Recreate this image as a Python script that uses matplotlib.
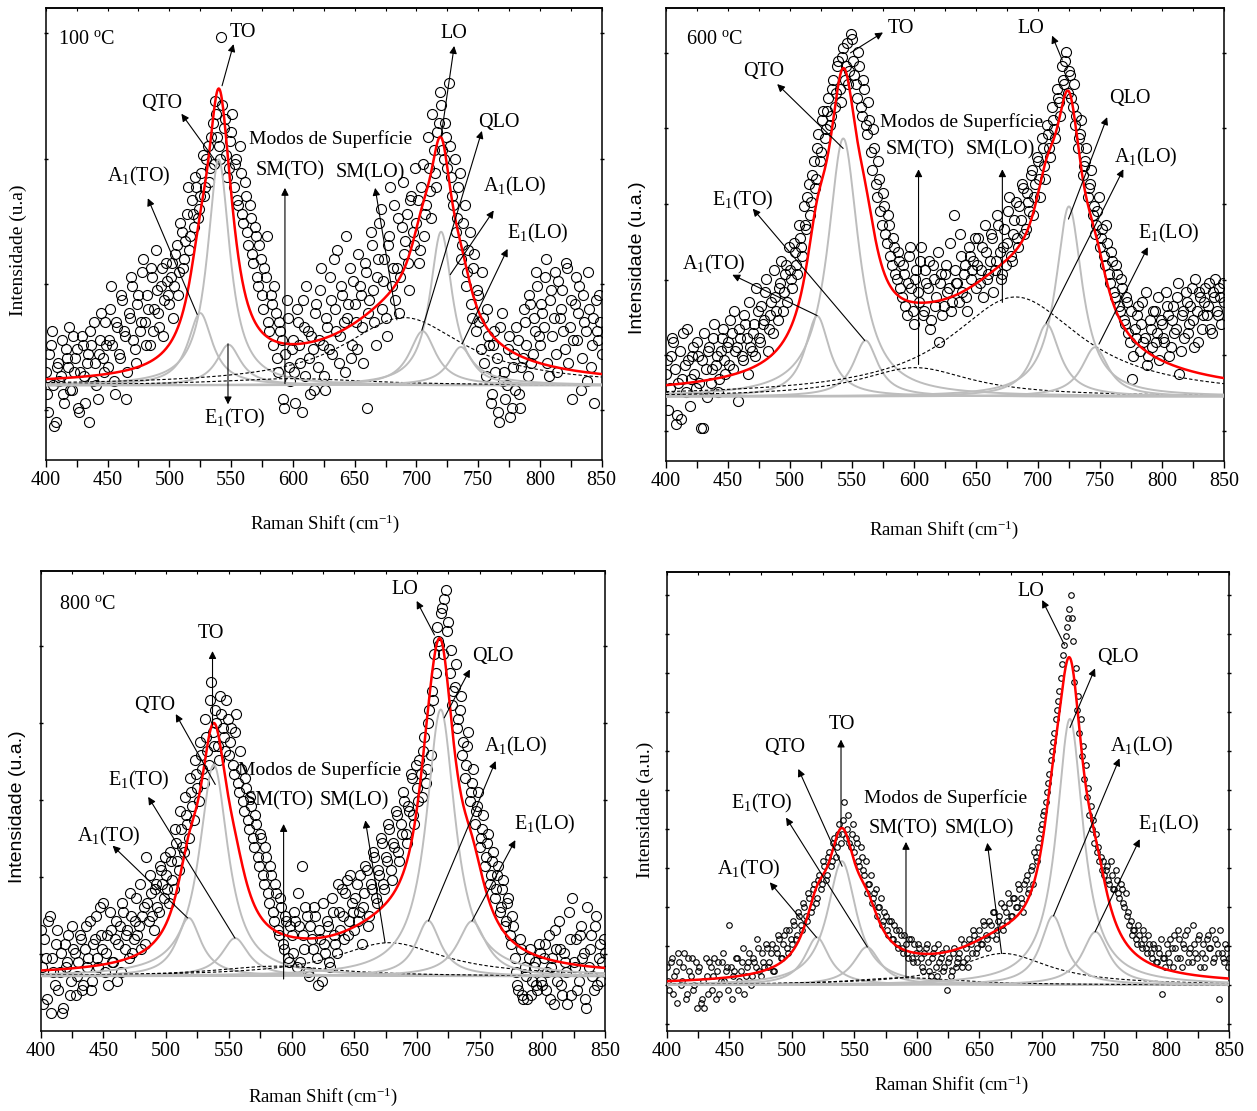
"""Quatro espectros Raman (100, 600, 800 °C e amostra sem rótulo) com ajuste lorentziano."""
import matplotlib

matplotlib.use("Agg")
import matplotlib.pyplot as plt
import numpy as np

plt.rcParams["font.family"] = ["Liberation Serif", "DejaVu Serif"]
plt.rcParams["mathtext.fontset"] = "custom"
plt.rcParams["mathtext.rm"] = "Liberation Serif"
plt.rcParams["mathtext.it"] = "Liberation Serif:italic"
plt.rcParams["axes.linewidth"] = 1.1

# eixo x (cm-1): pontos pares e ímpares; intensidades em u.a. acima da linha de base
raman_even = np.arange(400, 851, 2)
raman_odd = np.arange(401, 850, 2)

int_100 = [
    3, -6, 9, 0, -8, 5, 2, -2, 8, 4, -1, 11, 6, -5, 3, 9, -4, 7, 12, 1, 5, -3, 10, 6, 14,
    4, 17, 9, -2, 13, 6, 19, 11, 3, 15, 22, 8, 18, 12, 25, 14, 20, 9, 24, 17, 21, 13, 26, 19, 23,
    18, 27, 22, 31, 25, 34, 28, 38, 30, 41, 35, 44, 39, 47, 42, 50, 45, 55, 49, 60, 53, 77, 57, 51, 48,
    56, 44, 50, 40, 47, 36, 42, 31, 37, 27, 33, 22, 28, 17, 24, 14, 20, 9, 16, 3, 12, -3, 7, 15, 1,
    10, -4, 14, 5, 19, 2, 12, -2, 8, 16, 4, 21, 9, -1, 13, 24, 7, 17, 30, 11, 20, 3, 15, 26, 9,
    18, 8, 22, 13, 27, -5, 19, 31, 14, 24, 36, 17, 28, 11, 33, 22, 40, 26, 16, 35, 29, 38, 21, 42, 31,
    36, 27, 44, 33, 40, 48, 37, 52, 44, 58, 62, 50, 55, 67, 46, 40, 34, 44, 28, 36, 22, 30, 18, 26, 12,
    20, 8, 15, 2, 11, -4, 9, 3, -6, 13, 1, -3, 8, -7, 4, -1, 10, -5, 6, 14, 2, 18, 7, 12, 22,
    9, 16, 24, 5, 19, 11, 25, 3, 15, 21, 8, 26, 13, -3, 18, 10, 22, 6, 14, 1, 17, 9, -4, 12, 20,
    7,
]
int_100_odd = [
    -2, 7, 12, -9, 4, 1, 10, -4, 6, 13, -1, 3, 8, -6, 11, 2, 5, -8, 9, 14, 0, 7, 16, 3, 9,
    10, 22, 1, 14, 7, 20, 12, -3, 16, 24, 10, 5, 20, 14, 28, 9, 17, 26, 12, 30, 16, 22, 11, 27, 20,
    24, 15, 29, 20, 36, 26, 32, 44, 33, 38, 46, 37, 42, 51, 44, 53, 48, 58, 63, 55, 50, 62, 59, 46, 54,
    60, 49, 41, 53, 38, 45, 34, 40, 29, 35, 24, 31, 20, 26, 33, 12, 18, 22, 6, 14, 10, -5, 19, 4, 8,
    3, 17, 9, -6, 13, 22, 6, 11, -1, 18, 10, 26, 2, 15, 8, 19, 28, 12, 5, 22, 14, 33, 18, 6, 23,
    14, 29, 20, 5, 25, 16, 34, 21, 9, 28, 39, 23, 15, 31, 44, 26, 19, 37, 24, 45, 32, 27, 41, 34, 48,
    41, 30, 49, 38, 55, 43, 60, 47, 56, 65, 52, 58, 48, 53, 42, 50, 37, 47, 31, 40, 25, 34, 15, 29, 21,
    14, 25, 5, 17, 9, -2, 12, 6, -8, 16, 3, 0, 11, -5, 7, 13, -2, 4, 17, 9, 20, 5, 15, 25, 11,
    18, 13, 28, 2, 21, 15, 7, 23, 17, 12, 27, 5, 19, 10, 24, 16, -1, 20, 12, 25, 4, 15, 19, 10, 14,
]
int_600 = [
    5, -3, 9, 12, -6, 3, -5, 14, 1, 8, 4, 11, 2, 9, -7, -7, 6, 10, 3, 13, 7, 1, 10, 15, 5,
    12, 17, 6, 10, -1, 13, 8, 16, 5, 11, 14, 9, 19, 12, 16, 23, 10, 18, 14, 22, 17, 25, 19, 27, 21,
    28, 24, 32, 27, 35, 31, 38, 44, 40, 49, 46, 55, 52, 61, 57, 63, 60, 68, 64, 73, 68, 75, 70, 78, 72,
    79, 71, 66, 73, 62, 68, 58, 61, 50, 55, 44, 48, 38, 42, 34, 38, 29, 33, 26, 30, 22, 27, 18, 31, 24,
    16, 28, 21, 33, 19, 25, 30, 17, 26, 22, 12, 27, 20, 29, 24, 19, 40, 25, 21, 31, 27, 22, 33, 26, 30,
    24, 35, 28, 22, 32, 27, 36, 23, 30, 38, 26, 33, 29, 41, 31, 36, 43, 33, 39, 46, 37, 43, 49, 40, 47,
    52, 44, 55, 48, 58, 53, 61, 57, 66, 62, 70, 74, 67, 71, 64, 60, 55, 58, 49, 52, 44, 47, 40, 36, 41,
    33, 37, 29, 34, 25, 30, 22, 27, 19, 24, 16, 21, 12, 4, 15, 18, 10, 21, 13, 7, 17, 11, 19, 14, 8,
    16, 12, 20, 9, 17, 14, 22, 5, 18, 13, 21, 16, 24, 11, 19, 23, 15, 21, 18, 25, 14, 22, 19, 24, 16,
    21,
]
int_600_odd = [
    8, 2, 13, 6, -4, 10, 4, 7, 15, -2, 9, 5, 12, 3, 8, 14, 0, 11, 6, 16, 9, 4, 13, 8, 11,
    7, 14, 19, 11, 15, 9, 18, 13, 21, 10, 16, 24, 13, 20, 17, 26, 15, 21, 28, 19, 24, 30, 23, 29, 33,
    26, 34, 29, 38, 33, 42, 37, 47, 43, 52, 48, 58, 54, 63, 59, 66, 62, 70, 67, 74, 65, 77, 73, 69, 80,
    74, 69, 76, 64, 70, 60, 65, 54, 59, 47, 52, 41, 45, 36, 40, 31, 35, 27, 32, 24, 29, 20, 25, 33, 19,
    26, 23, 30, 18, 28, 24, 15, 29, 20, 32, 25, 18, 27, 23, 34, 21, 28, 25, 36, 23, 29, 19, 31, 28, 35,
    29, 25, 33, 38, 26, 30, 35, 28, 40, 32, 27, 37, 34, 44, 30, 39, 35, 42, 47, 36, 45, 41, 50, 44, 53,
    48, 57, 51, 60, 55, 64, 59, 68, 65, 73, 69, 76, 72, 66, 69, 62, 57, 61, 51, 55, 46, 50, 42, 38, 44,
    35, 31, 38, 27, 32, 23, 29, 20, 26, 17, 22, 14, 19, 9, 13, 20, 16, 12, 23, 9, 15, 19, 12, 22, 17,
    13, 23, 18, 11, 20, 15, 25, 10, 19, 23, 14, 20, 17, 26, 12, 22, 18, 24, 20, 15, 23, 26, 18, 22, 25,
]
int_800 = [
    10, -6, 4, 12, -8, 1, 7, -3, 5, -7, 2, 9, -1, 6, -4, 3, 8, -2, 11, 4, -3, 7, 13, 2, 9,
    16, 5, -2, 10, 3, 12, 7, 1, 14, 9, 4, 13, 8, 17, 11, 6, 15, 26, 12, 18, 10, 20, 14, 23, 17,
    22, 16, 25, 19, 29, 23, 32, 27, 35, 30, 40, 34, 44, 38, 48, 42, 52, 46, 64, 50, 55, 47, 57, 52, 60,
    48, 54, 44, 57, 40, 45, 36, 41, 32, 37, 28, 33, 24, 30, 20, 26, 16, 22, 12, 18, 9, 15, 6, 12, 3,
    9, 14, 2, 11, 24, 6, 13, 0, 8, 15, 4, 10, -1, 7, 12, 3, 17, 9, 5, 14, 19, 8, 21, 12, 16,
    10, 20, 14, 7, 18, 23, 13, 19, 26, 16, 22, 29, 19, 25, 32, 21, 28, 35, 25, 31, 38, 29, 36, 43, 33,
    41, 47, 39, 52, 45, 58, 62, 70, 76, 72, 80, 82, 75, 66, 59, 63, 54, 58, 48, 43, 50, 38, 42, 33, 37,
    28, 32, 24, 29, 20, 25, 17, 22, 14, 19, 11, 16, 9, 13, 4, -2, 8, -4, 2, -5, 6, -1, 3, -3, 5,
    -2, 7, 1, -5, 4, 10, -1, 6, -4, 3, -6, 8, 17, 2, -3, 9, 4, -5, 15, 6, 0, 11, -2, 7, 3,
    5,
]
int_800_odd = [
    2, 8, -5, 13, 4, -2, 10, 1, -8, 7, 3, -4, 11, 5, 0, 9, -3, 6, 2, 12, -1, 8, 4, 15, 6,
    1, 9, 14, 3, 8, -1, 11, 16, 6, 10, 18, 5, 12, 9, 20, 13, 7, 16, 22, 13, 19, 15, 24, 20, 26,
    19, 27, 21, 32, 25, 36, 28, 39, 33, 43, 37, 47, 41, 51, 45, 56, 49, 60, 53, 58, 50, 61, 54, 49, 56,
    51, 46, 53, 42, 49, 38, 43, 34, 39, 30, 35, 26, 31, 22, 28, 18, 24, 14, 20, 10, 17, 7, 13, 4, 11,
    5, 12, 18, 3, 9, 15, 1, 11, 6, 13, -2, 8, 16, 5, 11, 2, 14, 7, 20, 10, 13, 18, 9, 22, 14,
    17, 12, 22, 15, 24, 11, 20, 27, 17, 23, 30, 20, 26, 33, 23, 29, 36, 27, 33, 40, 31, 37, 44, 35, 46,
    38, 44, 49, 42, 55, 48, 60, 66, 73, 79, 70, 84, 77, 71, 62, 68, 56, 61, 51, 46, 53, 40, 45, 36, 40,
    30, 35, 26, 31, 22, 27, 19, 24, 15, 21, 12, 17, 7, 11, 1, -3, 6, -5, 0, 4, -4, 2, -2, 7, -1,
    4, -3, 9, 2, -6, 6, 12, -2, 5, 1, 14, -4, 3, 8, -1, 11, 5, -7, 2, 9, -3, 13, 4, -1, 8,
]
int_s4 = [
    4, -1, 6, 2, -4, 5, 1, 7, -2, 3, 6, 0, -5, 4, -3, -5, 2, 5, -1, 6, 3, -2, 5, 1, 4,
    13, -3, 3, 6, 1, 5, -2, 4, 7, 2, 5, 10, 3, 7, 4, 8, 5, 9, 3, 7, 10, 6, 11, 8, 12,
    9, 13, 11, 15, 12, 17, 14, 19, 17, 22, 19, 24, 22, 26, 24, 29, 27, 32, 30, 35, 33, 40, 34, 31, 33,
    29, 31, 26, 28, 24, 20, 22, 18, 20, 15, 17, 13, 16, 12, 14, 10, 13, 9, 12, 8, 11, 7, 10, 6, 9,
    5, 8, 4, 7, 9, 3, 6, 8, 2, 5, 7, 4, -1, 6, 3, 8, 5, 7, 4, 9, 6, 10, 7, 11, 8,
    12, 9, 13, 10, 14, 11, 16, 12, 15, 13, 17, 14, 18, 15, 19, 17, 21, 18, 22, 24, 21, 26, 29, 27, 32,
    35, 38, 42, 46, 51, 55, 60, 64, 70, 74, 78, 82, 80, 66, 60, 55, 50, 45, 41, 37, 34, 31, 29, 27, 25,
    24, 26, 22, 24, 21, 23, 19, 21, 17, 15, 13, 11, 12, 9, 11, 8, 10, 7, 9, 6, 8, 5, 7, -2, 6,
    9, 5, 8, 11, 6, 10, 4, 8, 12, 7, 5, 9, 6, 11, 7, 4, 10, 8, 12, 6, 9, -3, 7, 5, 8,
    6,
]
int_s4_odd = [
    1, 5, -2, 3, 7, 0, 4, -3, 6, 2, -1, 5, 3, -4, 1, 6, -2, 4, 2, -3, 5, 1, 7, 3, -1,
    4, 2, 6, -1, 3, 8, 2, 5, 0, 6, 4, 8, 2, 5, 9, 4, 7, 3, 8, 11, 6, 9, 12, 7, 10,
    14, 10, 16, 13, 18, 15, 20, 16, 21, 18, 23, 21, 27, 23, 28, 26, 31, 28, 33, 31, 36, 32, 37, 30, 35,
    32, 27, 30, 25, 27, 22, 24, 19, 21, 17, 19, 14, 15, 11, 14, 10, 12, 8, 11, 7, 9, 6, 10, 5, 7,
    9, 6, 3, 8, 5, 2, 7, 4, 9, 6, 3, 8, 5, 2, 7, 4, 6, 10, 5, 8, 4, 9, 12, 7, 10,
    9, 14, 11, 8, 13, 16, 10, 14, 18, 12, 16, 20, 15, 19, 17, 22, 19, 16, 23, 20, 25, 22, 28, 30, 34,
    37, 40, 44, 49, 53, 58, 62, 67, 72, 76, 80, 85, 75, 69, 63, 58, 52, 48, 43, 39, 36, 33, 30, 28, 27,
    25, 23, 27, 21, 25, 20, 22, 18, 20, 16, 14, 12, 10, 13, 9, 12, 8, 11, 7, 9, 5, 8, 10, 6, 4,
    7, 10, 4, 8, 12, 6, 9, 11, 5, 8, 13, 7, 10, 4, 9, 6, 11, 8, 5, 10, 7, 12, 6, 9, 4,
]

# componentes lorentzianas: A1(TO), QTO, E1(TO), SM(TO), SM(LO), A1(LO), QLO, E1(LO)
peak_pos_100 = [525, 540, 548, 600, 690, 705, 720, 736]
peak_h_100 = [16, 50, 9, 1.5, 15, 12, 34, 8.5]
peak_w_100 = [24, 22, 24, 150, 120, 26, 22, 24]

peak_pos_600 = [522, 543, 561, 601, 682, 707, 725, 746]
peak_h_600 = [17.8, 57, 12.4, 6.4, 22, 16, 42, 10.9]
peak_w_600 = [24, 30, 24, 110, 130, 26, 26, 26]

peak_pos_800 = [518, 538, 555, 588, 678, 709, 719, 744]
peak_h_800 = [12.7, 46, 8.3, 2.2, 7.3, 12.1, 58, 12]
peak_w_800 = [24, 28, 26, 120, 105, 24, 28, 28]

peak_pos_s4 = [520, 540, 560, 591, 669, 709, 722.5, 743]
peak_h_s4 = [10.4, 27, 8.3, 1.6, 6.9, 15.1, 58, 11.6]
peak_w_s4 = [24, 28, 26, 110, 90, 24, 26, 26]

SURFACE_MODES = (3, 4)  # componentes tracejadas

A1TO, E1TO = "A$\\mathregular{_1}$(TO)", "E$\\mathregular{_1}$(TO)"
A1LO, E1LO = "A$\\mathregular{_1}$(LO)", "E$\\mathregular{_1}$(LO)"

PANELS = [
    dict(
        rect=[0.0364, 0.5860, 0.4423, 0.4068], y=int_100, y_odd=int_100_odd,
        pos=peak_pos_100, h=peak_h_100, w=peak_w_100, base=16.5,
        yt0=-5.4, ytstep=27.8, ms=7.2,
        ylabel="Intensidade (u.a)", yfam="serif", ylab_xy=(18, 250),
        xlabel="Raman Shift (cm$^{-1}$)", xlab_xy=(325, 524),
        temp=("100 $\\mathregular{^o}$C", 409.9, 76.6), modos=(630.8, 54.4),
        notes=[
            ("TO", 560, 78.1, (542.7, 66.3), (552, 75.5)),
            ("QTO", 493.8, 62.4, (537, 49.8), (509.8, 60.1)),
            (A1TO, 475.5, 46.3, (522.6, 15.7), (482.6, 41.4)),
            (E1TO, 553, -7.3, (547.5, 9.2), (547.5, -4.2)),
            ("SM(TO)", 598.1, 47.5, (593.6, 0.4), (593.6, 43.7)),
            ("SM(LO)", 662.8, 47.1, (684.2, 14.5), (666.6, 43.7)),
            ("LO", 730, 77.8, (720, 55.1), (730.6, 75.1)),
            ("QLO", 766.5, 58.2, (704.4, 12.2), (753, 56.3)),
            (A1LO, 779.6, 44, (727.4, 24.5), (762.6, 38.7)),
            (E1LO, 798.5, 33.7, (737, 9.2), (773.8, 30.2)),
        ],
    ),
    dict(
        rect=[0.5298, 0.5851, 0.4439, 0.4077], y=int_600, y_odd=int_600_odd,
        pos=peak_pos_600, h=peak_h_600, w=peak_w_600, base=14.2,
        yt0=-7.6, ytstep=16.7, ms=7.2,
        ylabel="Intensidade (u.a.)", yfam="sans-serif", ylab_xy=(638, 258),
        xlabel="Raman Shift (cm$^{-1}$)", xlab_xy=(944, 530),
        temp=("600 $\\mathregular{^o}$C", 415.8, 78.9), modos=(638.2, 60.6),
        notes=[
            ("TO", 589.5, 81.2, (548.8, 75.9), (575, 80.4)),
            ("QTO", 478.8, 71.7, (542.9, 54.8), (489.7, 69)),
            (E1TO, 462.1, 43.4, (560.3, 12.4), (470, 41.5)),
            (A1TO, 438.4, 29.2, (521.9, 17.9), (453.5, 26.9)),
            ("SM(TO)", 604.7, 54.5, (603.7, 7.1), (603.7, 50.2)),
            ("SM(LO)", 669.4, 54.5, (671.3, 20.8), (671.3, 50.2)),
            ("LO", 694, 81.2, (719.6, 74.3), (711.4, 79.7)),
            ("QLO", 773.8, 65.9, (724.6, 39.2), (755.8, 61.7)),
            (A1LO, 787.3, 52.9, (706.5, 16.2), (768.9, 50.2)),
            (E1LO, 805.4, 36.1, (749.2, 11.6), (788.6, 33)),
        ],
    ),
    dict(
        rect=[0.0324, 0.0720, 0.4489, 0.4140], y=int_800, y_odd=int_800_odd,
        pos=peak_pos_800, h=peak_h_800, w=peak_w_800, base=11.9,
        yt0=4.9, ytstep=16.7, ms=7.2,
        ylabel="Intensidade (u.a.)", yfam="sans-serif", ylab_xy=(18, 807),
        xlabel="Raman Shift (cm$^{-1}$)", xlab_xy=(323, 1097),
        temp=("800 $\\mathregular{^o}$C", 414.2, 80.8), modos=(622.6, 44.8),
        notes=[
            ("TO", 536, 74.6, (537, 54.6), (537, 70.7)),
            ("QTO", 490.7, 58.9, (539.2, 41.7), (507.7, 57)),
            (E1TO, 477.8, 42.5, (554.9, 8.3), (485.7, 39)),
            (A1TO, 454.2, 30.4, (517.1, 12.7), (457.3, 28.4)),
            ("SM(TO)", 589.9, 38.2, (593.7, -0.6), (593.7, 33.1)),
            ("SM(LO)", 650, 38.2, (674.6, 7.3), (658.9, 33.9)),
            ("LO", 690.7, 84, (714, 74.2), (699.8, 81.6)),
            ("QLO", 760.2, 69.5, (721.8, 56.2), (742.3, 66.7)),
            (A1LO, 779.1, 49.9, (709.2, 12.0), (762.8, 46.8)),
            (E1LO, 801.5, 33.1, (743.9, 12), (778.5, 29.6)),
        ],
    ),
    dict(
        rect=[0.5306, 0.0720, 0.4473, 0.4131], y=int_s4, y_odd=int_s4_odd,
        pos=peak_pos_s4, h=peak_h_s4, w=peak_w_s4, base=10.0,
        yt0=-8.5, ytstep=8.5, ms=4.0,
        ylabel="Intensidade (a.u.)", yfam="serif", ylab_xy=(645, 810),
        xlabel="Raman Shifit (cm$^{-1}$)", xlab_xy=(952, 1085),
        temp=None, modos=(622.6, 40.8),
        notes=[
            ("LO", 690.9, 85.8, (718.2, 74.1), (700.3, 83.9)),
            ("QLO", 760.5, 71.3, (722.5, 56.1), (742.6, 69)),
            ("TO", 540.2, 56.8, (539.3, 34.5), (539.3, 53.5)),
            ("QTO", 494, 51.8, (540.2, 25.9), (505.1, 47.1)),
            (E1TO, 475.8, 39.6, (560.4, 8.3), (495.3, 36.5)),
            (A1TO, 465.7, 25.1, (519.7, 10.4), (482.3, 22.4)),
            ("SM(TO)", 589.1, 34.1, (591.3, 1.6), (591.3, 31.2)),
            ("SM(LO)", 649.6, 34.1, (667.8, 6.9), (656.4, 31)),
            (A1LO, 780, 52.1, (709.4, 15.1), (762.2, 49.4)),
            (E1LO, 801.9, 34.9, (742.6, 11.6), (778.4, 31.8)),
        ],
    ),
]

FIG_W, FIG_H = 1257, 1111


def lorentz(x, c, h, w):
    return h / (1.0 + (2.0 * (x - c) / w) ** 2)


def draw_panel(fig, p):
    ax = fig.add_axes(p["rect"])
    for xs, ys in ((raman_even, p["y"]), (raman_odd, p["y_odd"])):
        ax.plot(xs, ys, "o", ms=p["ms"], mfc="none", mec="black", mew=0.8, zorder=2)

    xf = np.linspace(400, 850, 901)
    total = np.zeros_like(xf)
    for i, (c, h, w) in enumerate(zip(p["pos"], p["h"], p["w"])):
        comp = lorentz(xf, c, h, w)
        total += comp
        if i in SURFACE_MODES:
            ax.plot(xf, comp, color="black", lw=0.8, ls=(0, (3, 2)), zorder=3)
        else:
            ax.plot(xf, comp, color="#bdbdbd", lw=1.4, zorder=3)
    ax.plot(xf, total, color="red", lw=1.8, zorder=4)

    ax.set_xlim(400, 850)
    ax.set_ylim(-p["base"], 100 - p["base"])
    ax.set_xticks(np.arange(400, 851, 50))
    ax.set_xticks(np.arange(425, 850, 50), minor=True)
    ax.set_yticks(np.arange(p["yt0"], 100 - p["base"], p["ytstep"]))
    ax.set_yticklabels([])
    ax.tick_params(axis="x", which="both", direction="out", length=5, width=1, labelsize=14.5, pad=3)
    ax.tick_params(axis="y", which="both", direction="inout", length=3, width=1, left=True, right=True)
    top = ax.secondary_xaxis("top")
    top.set_xticks(np.arange(400, 851, 25))
    top.tick_params(direction="in", length=2.5, width=0.8, labeltop=False)

    for label, tx, ty, start, end in p["notes"]:
        ax.annotate("", xy=end, xytext=start, zorder=5,
                    arrowprops=dict(arrowstyle="-|>", color="black", lw=0.8,
                                    mutation_scale=11, shrinkA=0, shrinkB=0))
        ax.text(tx, ty, label, ha="center", va="center", fontsize=14.5, zorder=6)
    ax.text(*p["modos"], "Modos de Superfície", ha="center", va="center", fontsize=14, zorder=6)
    if p["temp"]:
        t, tx, ty = p["temp"]
        ax.text(tx, ty, t, ha="left", va="center", fontsize=14.5)

    lx, ly = p["xlab_xy"]
    fig.text(lx / FIG_W, 1 - ly / FIG_H, p["xlabel"], ha="center", va="center", fontsize=13.5)
    yx, yy = p["ylab_xy"]
    fig.text(yx / FIG_W, 1 - yy / FIG_H, p["ylabel"], ha="center", va="center",
             rotation=90, fontsize=14,
             family=["Liberation Sans"] if p["yfam"] == "sans-serif" else ["Liberation Serif"])
    return ax


def main():
    fig = plt.figure(figsize=(FIG_W / 100, FIG_H / 100), dpi=100)
    for p in PANELS:
        draw_panel(fig, p)
    fig.savefig("out.png", dpi=100, facecolor="white")
    plt.close(fig)


if __name__ == "__main__":
    main()
